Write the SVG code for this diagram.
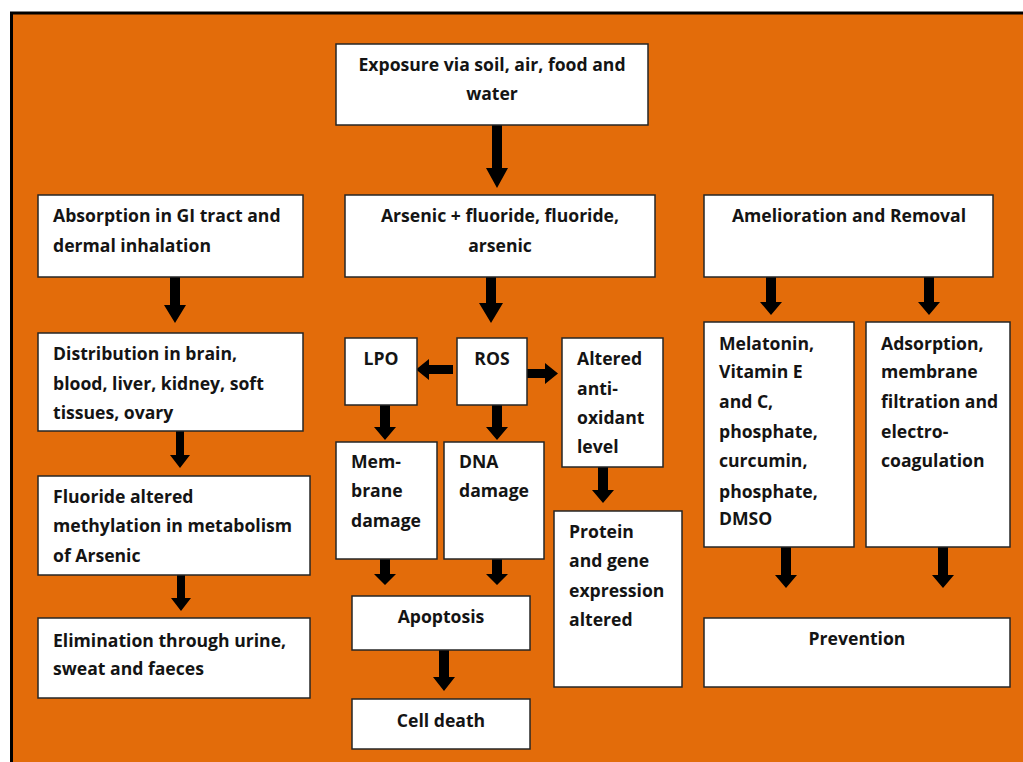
<svg xmlns="http://www.w3.org/2000/svg" width="1023" height="762" viewBox="0 0 1023 762">
<style>
.box{fill:#fff;stroke:#262626;stroke-width:1.5}
text{font-family:"Open Sans","Liberation Sans",sans-serif;font-weight:bold;font-size:17.6px;fill:#141414}
.c{text-anchor:middle}
.arr{fill:#000}
</style>
<rect x="0" y="0" width="1023" height="762" fill="#fff"/>
<rect x="11.5" y="13" width="1020" height="760" fill="#E36C0A" stroke="#000" stroke-width="3"/>
<g id="connectors">
<polygon class="arr" points="492,125 502,125 502,168 508,168 497,188 486,168 492,168"/>
<polygon class="arr" points="486,277 496,277 496,303 503,303 491,323 479,303 486,303"/>
<polygon class="arr" points="170,277 180,277 180,305 186,305 175,323 164,305 170,305"/>
<polygon class="arr" points="176,431 184,431 184,455 190,455 180,468 170,455 176,455"/>
<polygon class="arr" points="177,575 185,575 185,598 191,598 181,611 171,598 177,598"/>
<polygon class="arr" points="453,365 453,374 429,374 429,380 416,369.5 429,359 429,365"/>
<polygon class="arr" points="527,369 545,369 545,363 558,373.5 545,384 545,378 527,378"/>
<polygon class="arr" points="380,405 390,405 390,427 396,427 385,440 374,427 380,427"/>
<polygon class="arr" points="492,405 502,405 502,427 508,427 497,440 486,427 492,427"/>
<polygon class="arr" points="598,467 608,467 608,490 614,490 603,503 592,490 598,490"/>
<polygon class="arr" points="380,559 390,559 390,574 396,574 385,585 374,574 380,574"/>
<polygon class="arr" points="492,559 502,559 502,574 508,574 497,585 486,574 492,574"/>
<polygon class="arr" points="439,650 449,650 449,677 455,677 444,691 433,677 439,677"/>
<polygon class="arr" points="766,277 776,277 776,302 782,302 771,315 760,302 766,302"/>
<polygon class="arr" points="924,277 934,277 934,302 940,302 929,315 918,302 924,302"/>
<polygon class="arr" points="781,547 791,547 791,575 797,575 786,588 775,575 781,575"/>
<polygon class="arr" points="938,547 948,547 948,575 954,575 943,588 932,575 938,575"/>
</g>
<g id="exposure"><rect class="box" x="336" y="44" width="312" height="81"/><text class="c" x="492" y="71">Exposure via soil, air, food and</text><text class="c" x="492" y="100">water</text></g>
<g id="absorption"><rect class="box" x="38" y="195" width="265" height="82"/><text x="53" y="222">Absorption in GI tract and</text><text x="53" y="252">dermal inhalation</text></g>
<g id="arsenic"><rect class="box" x="345" y="195" width="310" height="82"/><text class="c" x="500" y="222">Arsenic + fluoride, fluoride,</text><text class="c" x="500" y="252">arsenic</text></g>
<g id="amelioration"><rect class="box" x="704" y="195" width="289" height="82"/><text class="c" x="849" y="222">Amelioration and Removal</text></g>
<g id="distribution"><rect class="box" x="38" y="333" width="265" height="98"/><text x="53" y="360">Distribution in brain,</text><text x="53" y="390">blood, liver, kidney, soft</text><text x="53" y="419">tissues, ovary</text></g>
<g id="fluoride-altered"><rect class="box" x="38" y="476" width="272" height="99"/><text x="53" y="503">Fluoride altered</text><text x="53" y="532">methylation in metabolism</text><text x="53" y="562">of Arsenic</text></g>
<g id="elimination"><rect class="box" x="38" y="618" width="272" height="80"/><text x="53" y="647">Elimination through urine,</text><text x="53" y="675">sweat and faeces</text></g>
<g id="lpo"><rect class="box" x="345" y="338" width="72" height="67"/><text class="c" x="381" y="365">LPO</text></g>
<g id="ros"><rect class="box" x="457" y="338" width="70" height="67"/><text class="c" x="492" y="365">ROS</text></g>
<g id="antioxidant"><rect class="box" x="562" y="338" width="101" height="129"/><text x="577" y="365">Altered</text><text x="577" y="395">anti-</text><text x="577" y="424">oxidant</text><text x="577" y="453">level</text></g>
<g id="membrane"><rect class="box" x="336" y="442" width="101" height="117"/><text x="351" y="468">Mem-</text><text x="351" y="497">brane</text><text x="351" y="527">damage</text></g>
<g id="dna"><rect class="box" x="444" y="442" width="100" height="117"/><text x="459" y="468">DNA</text><text x="459" y="497">damage</text></g>
<g id="protein"><rect class="box" x="554" y="511" width="128" height="176"/><text x="569" y="538">Protein</text><text x="569" y="567">and gene</text><text x="569" y="597">expression</text><text x="569" y="626">altered</text></g>
<g id="apoptosis"><rect class="box" x="352" y="596" width="178" height="54"/><text class="c" x="441" y="623">Apoptosis</text></g>
<g id="celldeath"><rect class="box" x="352" y="699" width="178" height="50"/><text class="c" x="441" y="727">Cell death</text></g>
<g id="melatonin"><rect class="box" x="704" y="322" width="150" height="225"/><text x="719" y="350">Melatonin,</text><text x="719" y="378">Vitamin E</text><text x="719" y="408">and C,</text><text x="719" y="438">phosphate,</text><text x="719" y="467">curcumin,</text><text x="719" y="498">phosphate,</text><text x="719" y="525">DMSO</text></g>
<g id="adsorption"><rect class="box" x="866" y="322" width="144" height="225"/><text x="881" y="350">Adsorption,</text><text x="881" y="378">membrane</text><text x="881" y="408">filtration and</text><text x="881" y="438">electro-</text><text x="881" y="467">coagulation</text></g>
<g id="prevention"><rect class="box" x="704" y="618" width="306" height="69"/><text class="c" x="857" y="645">Prevention</text></g>
</svg>
